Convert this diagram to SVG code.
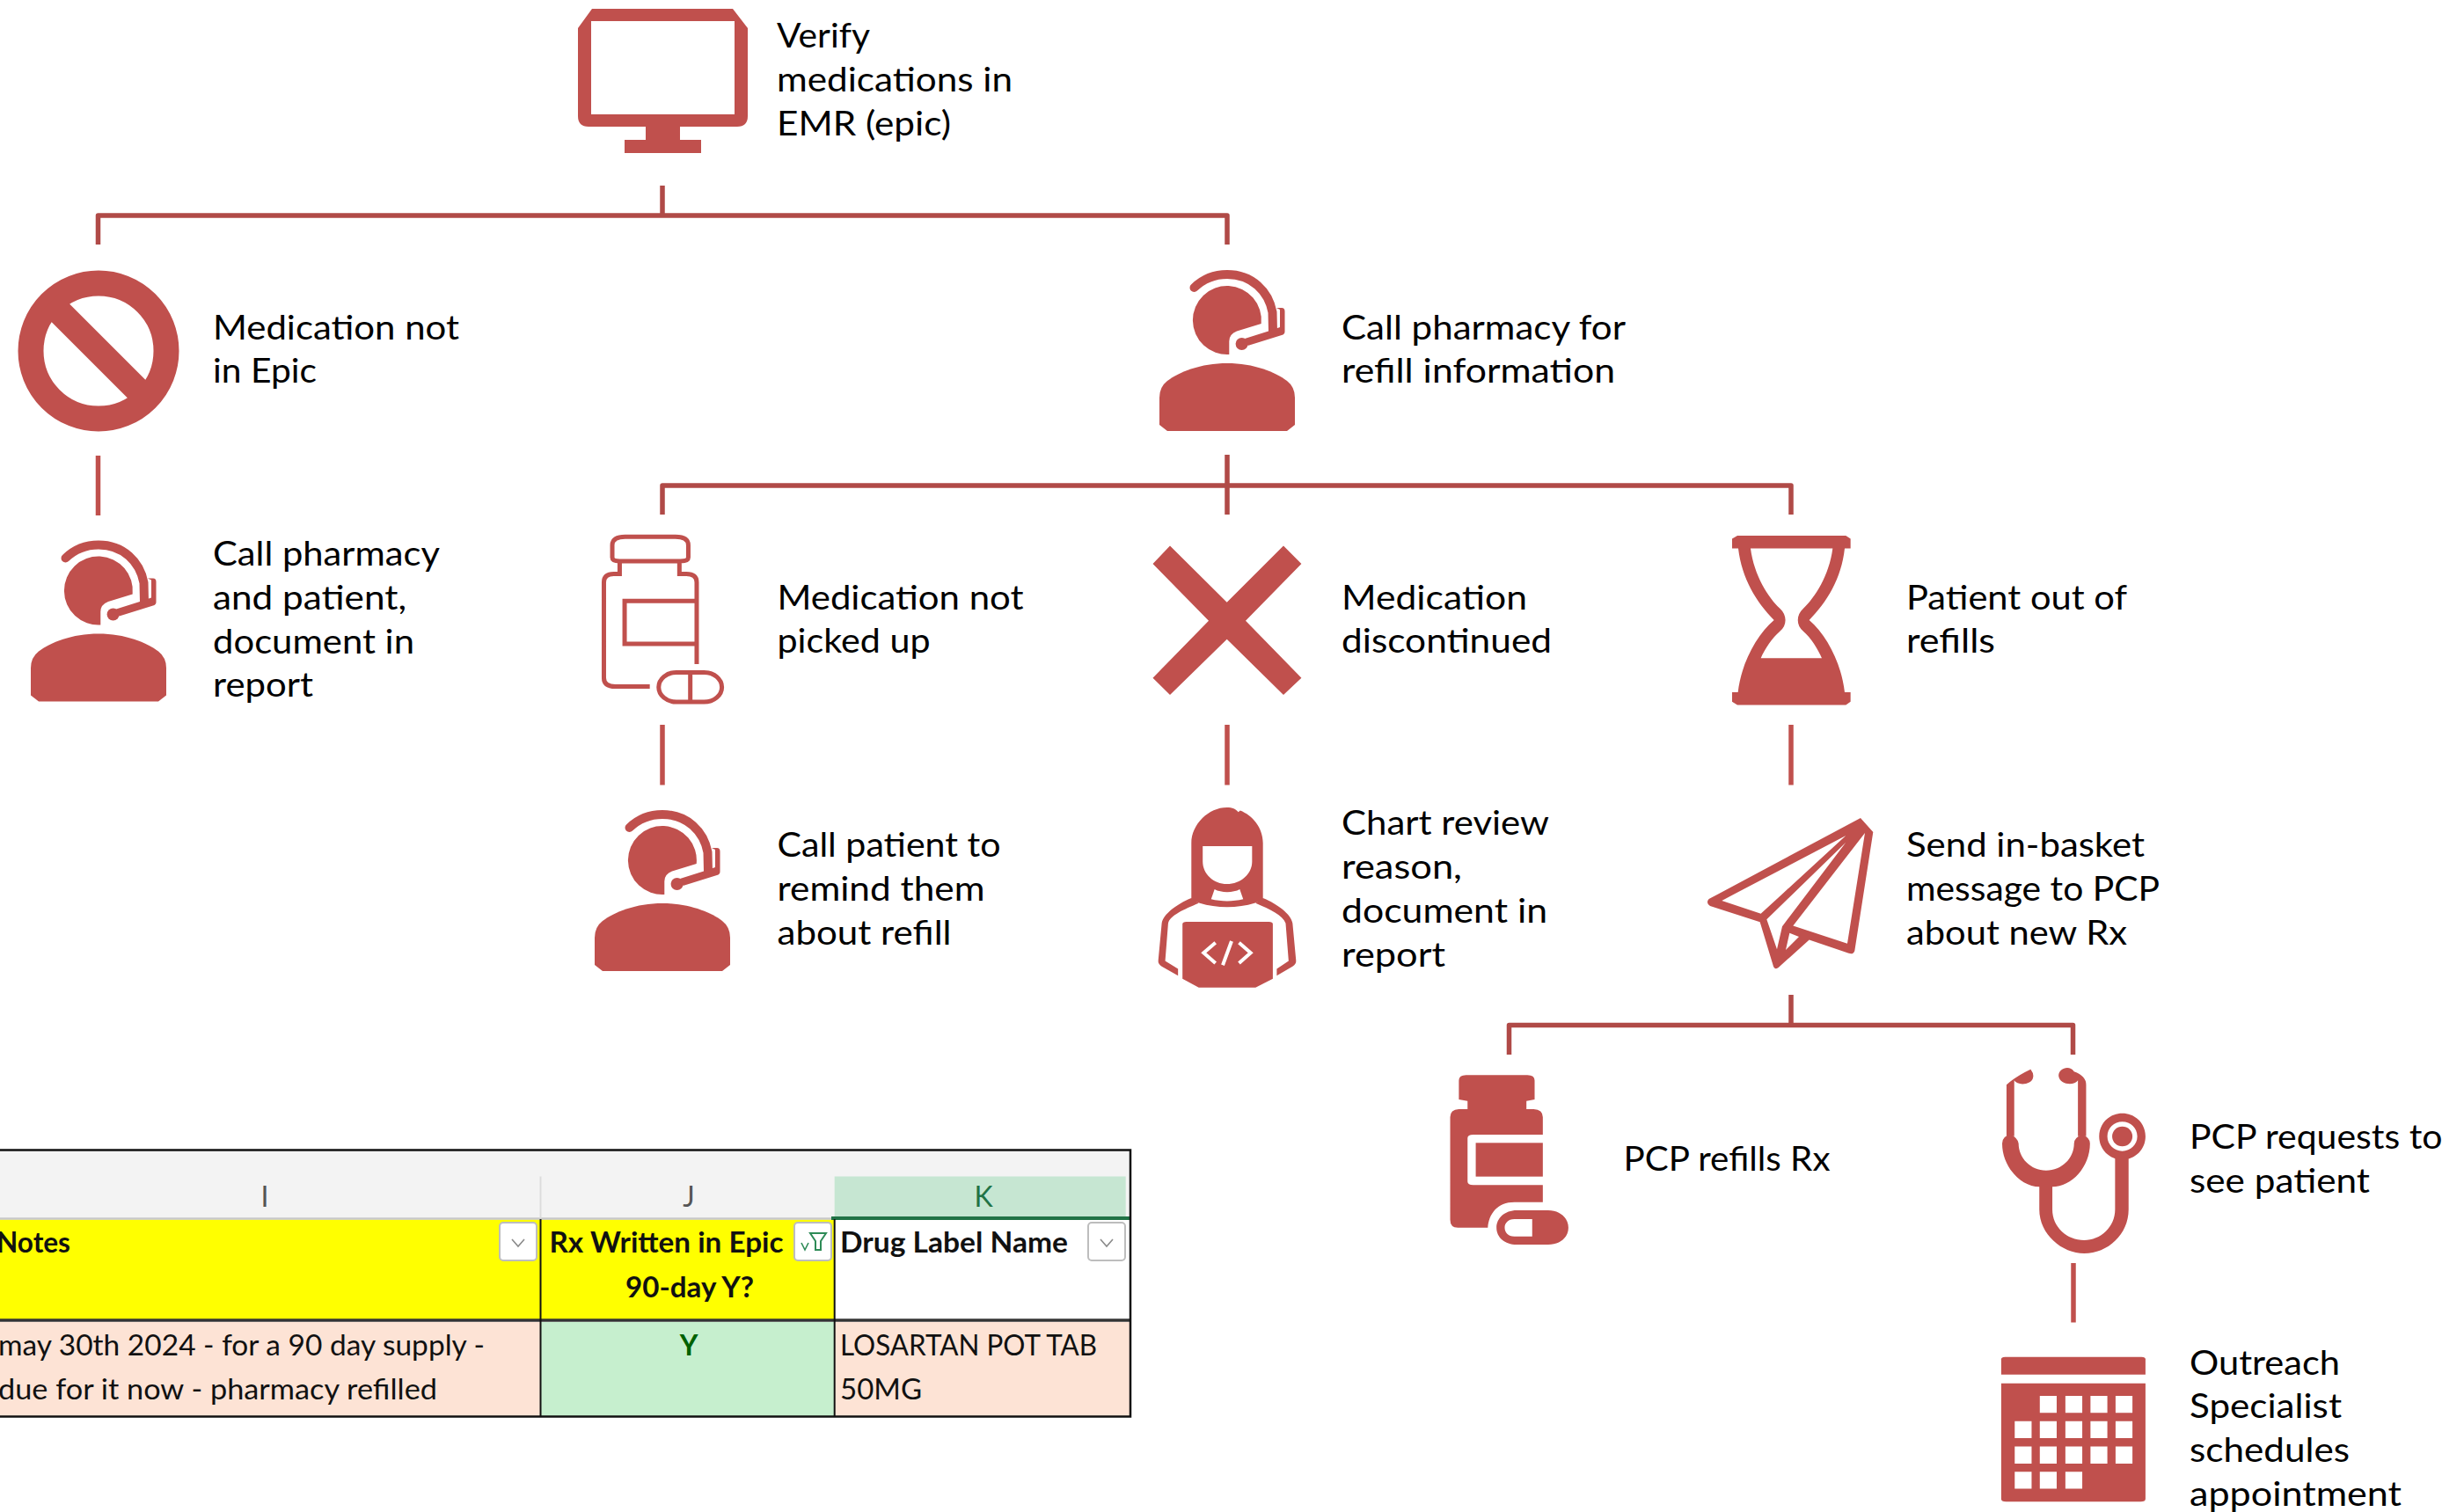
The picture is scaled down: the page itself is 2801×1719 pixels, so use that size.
<svg xmlns="http://www.w3.org/2000/svg" xmlns:xlink="http://www.w3.org/1999/xlink" width="2801" height="1719" viewBox="0 0 2801 1719">
<style>
.i{fill:#C0504D}
.t{font-family:Lato,"Liberation Sans",sans-serif;font-size:39.5px;fill:#000}
.x{font-family:Lato,"Liberation Sans",sans-serif;font-size:32px;fill:#111}
.b{font-weight:700}
.tree{fill:none;stroke:#B04A47;stroke-width:5.5;stroke-linejoin:round}
.link{fill:none;stroke:#C0504D;stroke-width:5.5}
.btn{fill:#fff;stroke:#bdbdbd;stroke-width:2}
.chev{fill:none;stroke:#8a8a8a;stroke-width:1.6}
</style>
<defs>
<g id="agent">
<path class="i" d="M38.7 61 L11 69.6 Q2.3 73 2.3 81 L2.3 96 A39 39 0 1 1 38.7 61Z"/>
<path d="M-37.5 20 Q-22 5 0 5 C28 5 47 24 51.500 48 L52 70" fill="none" stroke="#C0504D" stroke-width="10" stroke-linecap="round"/>
<path class="i" d="M48.500 69L60 65V45L56 43H62Q65.500 43 65.500 47V70Q65.500 73 62 74L23.500 86L20 78Z"/>
<circle class="i" cx="16.6" cy="84" r="7"/>
<path class="i" d="M0 106 C-30 106 -55 116 -68 126 Q-77 133 -77 145 L-77 176 L-68 183 L68 183 L77 176 L77 145 Q77 133 68 126 C55 116 30 106 0 106Z"/>
</g>
</defs>

<g id="connectors">
<path class="tree" d="M753 211V245M111.500 278V245H1395V278"/>
<path class="tree" d="M1395 517V585M753 585V552H2036V585"/>
<path class="tree" d="M2036 1131V1165.500M1715.500 1199V1165.500H2356.500V1199"/>
<path class="link" d="M111.500 518V586"/>
<path class="link" d="M753 824V892.500"/>
<path class="link" d="M1395 824V892.500"/>
<path class="link" d="M2036 824V892.500"/>
<path class="link" d="M2357 1436V1503.500"/>
</g>

<g id="node-verify">
<path class="i" fill-rule="evenodd" d="M673 10H833L850 32V132Q850 144 838 144H773V159H797V174H710V159H734V144H669Q657 144 657 132V32ZM672 24V130H835V24Z"/>
<text class="t"><tspan x="883" y="54" textLength="106" lengthAdjust="spacingAndGlyphs">Verify</tspan><tspan x="883" y="104" textLength="268" lengthAdjust="spacingAndGlyphs">medications in</tspan><tspan x="883" y="154" textLength="198" lengthAdjust="spacingAndGlyphs">EMR (epic)</tspan></text>
</g>

<g id="node-not-in-epic">
<circle cx="112" cy="399" r="77" fill="none" stroke="#C0504D" stroke-width="29"/>
<path d="M57 344L167 454" stroke="#C0504D" stroke-width="29"/>
<text class="t"><tspan x="242" y="386" textLength="280" lengthAdjust="spacingAndGlyphs">Medication not</tspan><tspan x="242" y="435" textLength="118" lengthAdjust="spacingAndGlyphs">in Epic</tspan></text>
</g>

<g id="node-call-pharmacy-patient">
<use href="#agent" x="112" y="614.500"/>
<text class="t"><tspan x="242" y="643" textLength="258" lengthAdjust="spacingAndGlyphs">Call pharmacy</tspan><tspan x="242" y="692.500" textLength="220" lengthAdjust="spacingAndGlyphs">and patient,</tspan><tspan x="242" y="742.500" textLength="229" lengthAdjust="spacingAndGlyphs">document in</tspan><tspan x="242" y="792" textLength="114" lengthAdjust="spacingAndGlyphs">report</tspan></text>
</g>

<g id="node-call-pharmacy-refill">
<use href="#agent" x="1395" y="307"/>
<text class="t"><tspan x="1525" y="386" textLength="323" lengthAdjust="spacingAndGlyphs">Call pharmacy for</tspan><tspan x="1525" y="435" textLength="311" lengthAdjust="spacingAndGlyphs">refill information</tspan></text>
</g>

<g id="node-not-picked-up">
<g transform="translate(650,590) scale(.5612,.3509)" fill="none" stroke="#C0504D">
<path vector-effect="non-scaling-stroke" style="stroke-width:5" d="M97 137H220Q236 137 236 125V85Q236 58 210 58H108Q82 58 82 85V125Q82 137 97 137V178H85Q65 178 65 205V515Q65 543 88 543H158M218 137V178H232Q253 178 253 205V470M250 266H107V405H250"/>
<rect vector-effect="non-scaling-stroke" style="stroke-width:5" x="176" y="497" width="128" height="96" rx="36" ry="48"/>
<path vector-effect="non-scaling-stroke" style="stroke-width:5" d="M240 497V593"/>
</g>
<text class="t"><tspan x="883.500" y="692.500" textLength="280" lengthAdjust="spacingAndGlyphs">Medication not</tspan><tspan x="883.500" y="741.500" textLength="174" lengthAdjust="spacingAndGlyphs">picked up</tspan></text>
</g>

<g id="node-discontinued">
<path class="i" d="M1330 620.500L1394.700 684.700L1459 620.500L1479.400 641L1416 705.800L1479.400 770.700L1459 790L1394.700 726.800L1330 790L1310.500 770.700L1374 705.800L1310.500 641Z"/>
<text class="t"><tspan x="1525" y="692.500" textLength="211" lengthAdjust="spacingAndGlyphs">Medication</tspan><tspan x="1525" y="741.500" textLength="239" lengthAdjust="spacingAndGlyphs">discontinued</tspan></text>
</g>

<g id="node-out-of-refills">
<path class="i" fill-rule="evenodd" transform="translate(1920,590) scale(.3333,.3571)" d="M165 53L535 53L551 63L551 94L531 94C520 190 470 265 410 322C470 370 520 460 531 552L551 552L551 582L535 592L165 592L147 582L147 552L167 552C178 460 230 370 290 322C230 265 180 190 168 94L147 94L147 63ZM210 94L490 94C478 180 430 250 390 285C365 305 365 340 390 358C415 378 440 415 453 443L245 443C258 415 285 378 310 358C335 340 335 305 310 285C270 250 222 180 210 94Z"/>
<text class="t"><tspan x="2167" y="692.500" textLength="251" lengthAdjust="spacingAndGlyphs">Patient out of</tspan><tspan x="2167" y="741.500" textLength="101" lengthAdjust="spacingAndGlyphs">refills</tspan></text>
</g>

<g id="node-call-patient">
<use href="#agent" x="753" y="921"/>
<text class="t"><tspan x="883.500" y="973.500" textLength="254" lengthAdjust="spacingAndGlyphs">Call patient to</tspan><tspan x="883.500" y="1023.500" textLength="236" lengthAdjust="spacingAndGlyphs">remind them</tspan><tspan x="883.500" y="1073.500" textLength="198" lengthAdjust="spacingAndGlyphs">about refill</tspan></text>
</g>

<g id="node-chart-review">
<g transform="translate(650,590) scale(.5612,.3509)">
<path class="i" fill-rule="evenodd" d="M1255 1235V1050C1255 990 1290 935 1327 935C1338 935 1345 940 1350 950L1354 945C1378 960 1400 1000 1400 1050V1235L1383 1245C1350 1262 1305 1262 1272 1245ZM1278 1060V1110C1278 1150 1300 1183 1327 1183C1355 1183 1378 1150 1378 1110V1060ZM1302 1200L1295 1232C1315 1240 1340 1240 1360 1232L1353 1200C1340 1212 1315 1212 1302 1200Z"/>
<path class="i" d="M1255 1228L1270 1245C1240 1265 1212 1285 1208 1310L1202 1432L1228 1458V1480L1195 1450Q1187 1442 1188 1430L1195 1310C1198 1280 1225 1248 1255 1228ZM1400 1228L1385 1245C1415 1265 1440 1285 1446 1310L1452 1432L1428 1458V1480L1460 1450Q1468 1442 1467 1430L1460 1310C1457 1280 1430 1248 1400 1228Z"/>
<path class="i" d="M1245 1305H1412Q1420 1305 1420 1313V1490L1385 1518H1270L1237 1490V1313Q1237 1305 1245 1305Z"/>
</g>
<path d="M1381.700 1071.700L1368.300 1083.300L1381.700 1095M1408.500 1071.700L1421.700 1083.300L1408.500 1095M1400 1070L1390 1097.300" fill="none" stroke="#fff" stroke-width="4"/>
<text class="t"><tspan x="1525" y="948.500" textLength="236" lengthAdjust="spacingAndGlyphs">Chart review</tspan><tspan x="1525" y="998.500" textLength="137" lengthAdjust="spacingAndGlyphs">reason,</tspan><tspan x="1525" y="1048.500" textLength="234" lengthAdjust="spacingAndGlyphs">document in</tspan><tspan x="1525" y="1098.500" textLength="118" lengthAdjust="spacingAndGlyphs">report</tspan></text>
</g>

<g id="node-send-message">
<path class="i" fill-rule="evenodd" transform="translate(1920,590) scale(.3333,.3571)" d="M585 952L628 997L565 1375Q560 1388 545 1383L410 1340L305 1428Q292 1436 288 1425L242 1283L72 1232Q56 1222 68 1210ZM535 1008L112 1215L245 1257ZM535 1030L265 1275L300 1370L318 1297ZM600 1000L355 1295L540 1352ZM343 1318L330 1372L375 1330Z"/>
<text class="t"><tspan x="2167" y="973.500" textLength="271" lengthAdjust="spacingAndGlyphs">Send in-basket</tspan><tspan x="2167" y="1023.500" textLength="288" lengthAdjust="spacingAndGlyphs">message to PCP</tspan><tspan x="2167" y="1073.500" textLength="251" lengthAdjust="spacingAndGlyphs">about new Rx</tspan></text>
</g>

<g id="node-pcp-refills">
<g transform="translate(1620,1200) scale(.5485,.3333)">
<path class="i" d="M85 67L212 67Q227 67 227 85L227 150L210 155L210 183L225 183Q244 185 244 210L244 270L100 270Q88 270 88 282L88 430Q88 442 100 442L244 442L244 500L185 500C150 500 132 540 130 587L68 587Q52 587 52 560L52 210Q52 185 70 183L88 183L88 155L70 150L70 85Q70 67 85 67Z"/>
<rect class="i" x="105" y="298" width="139" height="115"/>
<path class="i" fill-rule="evenodd" d="M190 528H255C280 528 297 555 297 587C297 620 280 645 255 645H190C165 645 148 620 148 587C148 555 165 528 190 528ZM222 558H185C172 558 165 572 165 587C165 603 172 617 185 617H222Z"/>
</g>
<text class="t" x="1845.500" y="1331" textLength="235" lengthAdjust="spacingAndGlyphs">PCP refills Rx</text>
</g>

<g id="node-pcp-requests">
<g transform="translate(1620,1200) scale(.5485,.3333)">
<path class="i" d="M1205 275V100Q1225 70 1255 47Q1262 62 1260 75C1258 100 1228 105 1221 85V275Z"/>
<path class="i" d="M1370 275V100Q1370 70 1345 55C1335 30 1312 45 1313 70C1315 100 1345 105 1353 85V275Z"/>
<path class="i" d="M1196 300Q1196 275 1213 270Q1228 280 1230 300C1230 350 1255 392 1287 392C1320 392 1345 350 1345 300Q1345 280 1362 270Q1378 280 1378 300C1378 380 1340 448 1300 448V525C1300 585 1330 630 1366 630C1400 630 1430 585 1430 525V340H1458V525C1458 610 1415 675 1366 675C1320 675 1273 610 1273 525V448C1235 448 1196 380 1196 300Z"/>
<path class="i" fill-rule="evenodd" d="M1445 197C1472 197 1493 232 1493 276C1493 320 1472 355 1445 355C1418 355 1397 320 1397 276C1397 232 1418 197 1445 197ZM1445 226C1428 226 1414 248 1414 276C1414 304 1428 326 1445 326C1462 326 1476 304 1476 276C1476 248 1462 226 1445 226Z"/>
<ellipse class="i" cx="1445" cy="276" rx="21" ry="34"/>
</g>
<text class="t"><tspan x="2489" y="1305.500" textLength="287.500" lengthAdjust="spacingAndGlyphs">PCP requests to</tspan><tspan x="2489" y="1355.500" textLength="205" lengthAdjust="spacingAndGlyphs">see patient</tspan></text>
</g>

<g id="node-outreach">
<g transform="translate(1620,1200) scale(.5485,.3333)">
<path class="i" d="M1202 1028H1485Q1493 1028 1493 1036V1088H1194V1036Q1194 1028 1202 1028Z"/>
<path class="i" fill-rule="evenodd" d="M1194 1118H1493V1512Q1493 1522 1483 1522H1204Q1194 1522 1194 1512ZM1274 1161v58h35v-58ZM1327 1161v58h35v-58ZM1379 1161v58h35v-58ZM1431 1161v58h35v-58ZM1222 1247v58h35v-58ZM1274 1247v58h35v-58ZM1327 1247v58h35v-58ZM1379 1247v58h35v-58ZM1431 1247v58h35v-58ZM1222 1334v58h35v-58ZM1274 1334v58h35v-58ZM1327 1334v58h35v-58ZM1379 1334v58h35v-58ZM1431 1334v58h35v-58ZM1222 1420v58h35v-58ZM1274 1420v58h35v-58ZM1327 1420v58h35v-58Z"/>
</g>
<text class="t"><tspan x="2489" y="1562.500" textLength="171" lengthAdjust="spacingAndGlyphs">Outreach</tspan><tspan x="2489" y="1612" textLength="173" lengthAdjust="spacingAndGlyphs">Specialist</tspan><tspan x="2489" y="1662" textLength="182" lengthAdjust="spacingAndGlyphs">schedules</tspan><tspan x="2489" y="1711.500" textLength="241" lengthAdjust="spacingAndGlyphs">appointment</tspan></text>
</g>

<g id="spreadsheet">
<rect x="0" y="1307.500" width="1285" height="78" fill="#f3f3f3"/>
<rect x="948.700" y="1337.500" width="331" height="46" fill="#c6e6d2"/>
<rect x="0" y="1386.500" width="948.700" height="113.500" fill="#ffff00"/>
<rect x="948.700" y="1386.500" width="336.300" height="113.500" fill="#fff"/>
<rect x="0" y="1503" width="614.500" height="107" fill="#fde3d5"/>
<rect x="614.500" y="1503" width="334.200" height="107" fill="#c6efce"/>
<rect x="948.700" y="1503" width="336.300" height="107" fill="#fde3d5"/>
<path d="M0 1385.500H945" stroke="#c8c8c8" stroke-width="2.500" fill="none"/>
<path d="M614.500 1337.500V1385" stroke="#dcdcdc" stroke-width="2" fill="none"/>
<path d="M945 1385H1284" stroke="#217346" stroke-width="4" fill="none"/>
<path d="M0 1501H1285" stroke="#333" stroke-width="3.500" fill="none"/>
<path d="M614.500 1386V1610M948.700 1386V1610" stroke="#111" stroke-width="2" fill="none"/>
<path d="M0 1307.500H1285V1610.500H0" stroke="#111" stroke-width="2.500" fill="none"/>
<text class="x" x="301" y="1372" text-anchor="middle" style="fill:#555">I</text>
<text class="x" x="783" y="1372" text-anchor="middle" style="fill:#555">J</text>
<text class="x" x="1118" y="1372" text-anchor="middle" style="fill:#217346">K</text>
<text class="x b" x="-4" y="1424" textLength="84" lengthAdjust="spacingAndGlyphs">Notes</text>
<text class="x b" x="624.500" y="1424" textLength="266" lengthAdjust="spacingAndGlyphs">Rx Written in Epic</text>
<text class="x b" x="711" y="1475" textLength="146" lengthAdjust="spacingAndGlyphs">90-day Y?</text>
<text class="x b" x="955" y="1424" textLength="259" lengthAdjust="spacingAndGlyphs">Drug Label Name</text>
<rect class="btn" x="568" y="1390" width="42" height="43" rx="4"/>
<rect class="btn" x="903" y="1390" width="42" height="43" rx="4"/>
<rect class="btn" x="1237" y="1390" width="42" height="43" rx="4"/>
<path class="chev" d="M582 1409L589 1417L596 1409M1251 1409L1258 1417L1265 1409"/>
<path d="M911 1413L915 1421L919 1413" fill="none" stroke="#2e8b57" stroke-width="1.600"/>
<path d="M921 1402H939L933 1411V1421H927V1411Z" fill="none" stroke="#2e8b57" stroke-width="2"/>
<text class="x" x="-2" y="1541" textLength="553" lengthAdjust="spacingAndGlyphs">may 30th 2024 - for a 90 day supply -</text>
<text class="x" x="-2" y="1591" textLength="499" lengthAdjust="spacingAndGlyphs">due for it now - pharmacy refilled</text>
<text class="x b" x="783" y="1541" text-anchor="middle" style="fill:#006100">Y</text>
<text class="x" x="955" y="1541" textLength="292" lengthAdjust="spacingAndGlyphs">LOSARTAN POT TAB</text>
<text class="x" x="955" y="1591" textLength="93" lengthAdjust="spacingAndGlyphs">50MG</text>
</g>
</svg>
